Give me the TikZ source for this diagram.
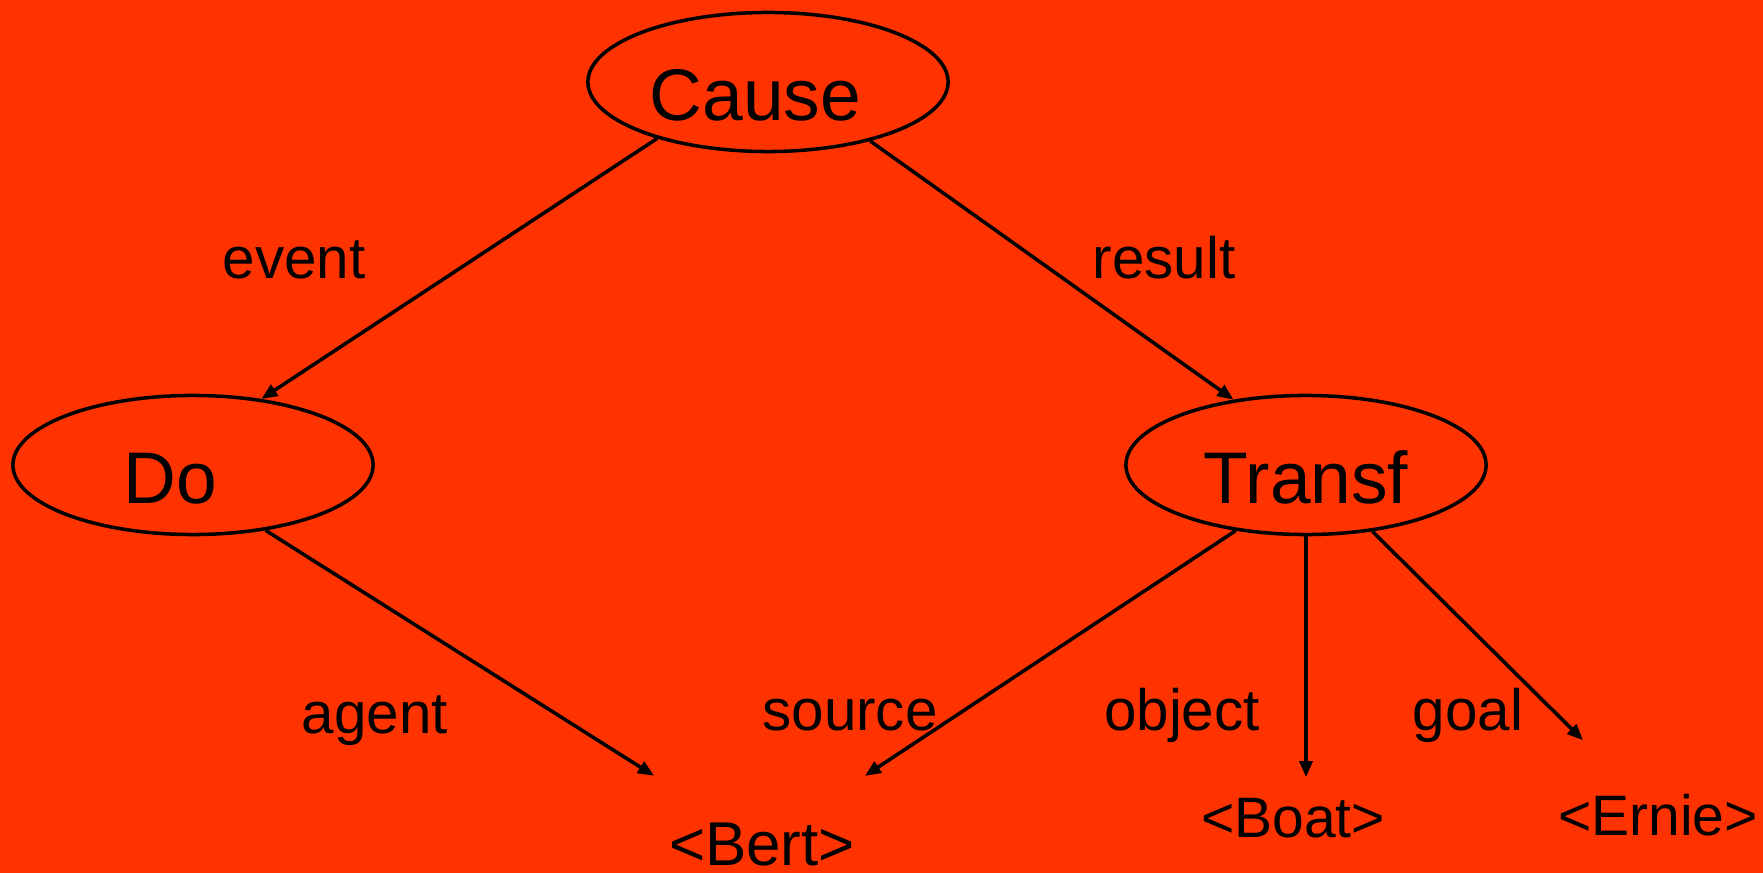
\documentclass[tikz,border=0pt]{standalone}
\usepackage{fontspec}
\setmainfont{Liberation Sans}
\usepackage{tikz}
\usetikzlibrary{shapes.geometric}
\usetikzlibrary{arrows.meta}
\definecolor{bgred}{HTML}{FF3300}
\tikzset{
  concept/.style={draw, ellipse, line width=1pt, minimum width=3.6cm, minimum height=1.39cm,
    inner sep=0pt, font=\fontsize{20.8pt}{24pt}\selectfont, text height=7.6mm, text depth=0pt},
  role/.style={anchor=base, inner sep=0pt, font=\fontsize{16.6pt}{20pt}\selectfont},
  filler/.style={anchor=base, inner sep=0pt, font=\fontsize{16.2pt}{20pt}\selectfont},
  link/.style={line width=1pt, -{Triangle[length=1.6mm,width=1.3mm]}}
}
\begin{document}
\begin{tikzpicture}[x=0.01cm, y=-0.01cm]
  \fill[bgred] (0,0) rectangle (1763,873);
  \useasboundingbox (0,0) rectangle (1763,873);

  % frames
  \node[concept] (cause) at (768,82) {Cause\kern2.5mm};
  \node[concept] (do) at (193,465) {Do\kern4.6mm};
  \node[concept] (transf) at (1306,465) {Transf};

  % fillers
  \node[filler, font=\fontsize{17.6pt}{21pt}\selectfont] (bert) at (762,865) {<Bert>};
  \node[filler] (boat) at (1293,837) {<Boat>};
  \node[filler] (ernie) at (1658,835) {<Ernie>};

  % role names
  \node[role] (event) at (294,278) {event};
  \node[role] (result) at (1164,278) {result};
  \node[role] (agent) at (375,733) {agent};
  \node[role] (source) at (850,730) {source};
  \node[role] (object) at (1182,730) {object};
  \node[role] (goal) at (1468,730) {goal};

  \draw[link] (cause.207) -- (do.44);
  \draw[link] (cause.-30) -- (transf.138);
  \draw[link, shorten >=8.6mm] (do.-42) -- (bert);
  \draw[link, shorten >=8.3mm] (transf.223) -- (bert);
  \draw[link, shorten >=2mm] (transf.south) -- (transf.south |- boat.north);
  \draw[link, shorten >=7.5mm] (transf.-45) -- (ernie);
\end{tikzpicture}
\end{document}
